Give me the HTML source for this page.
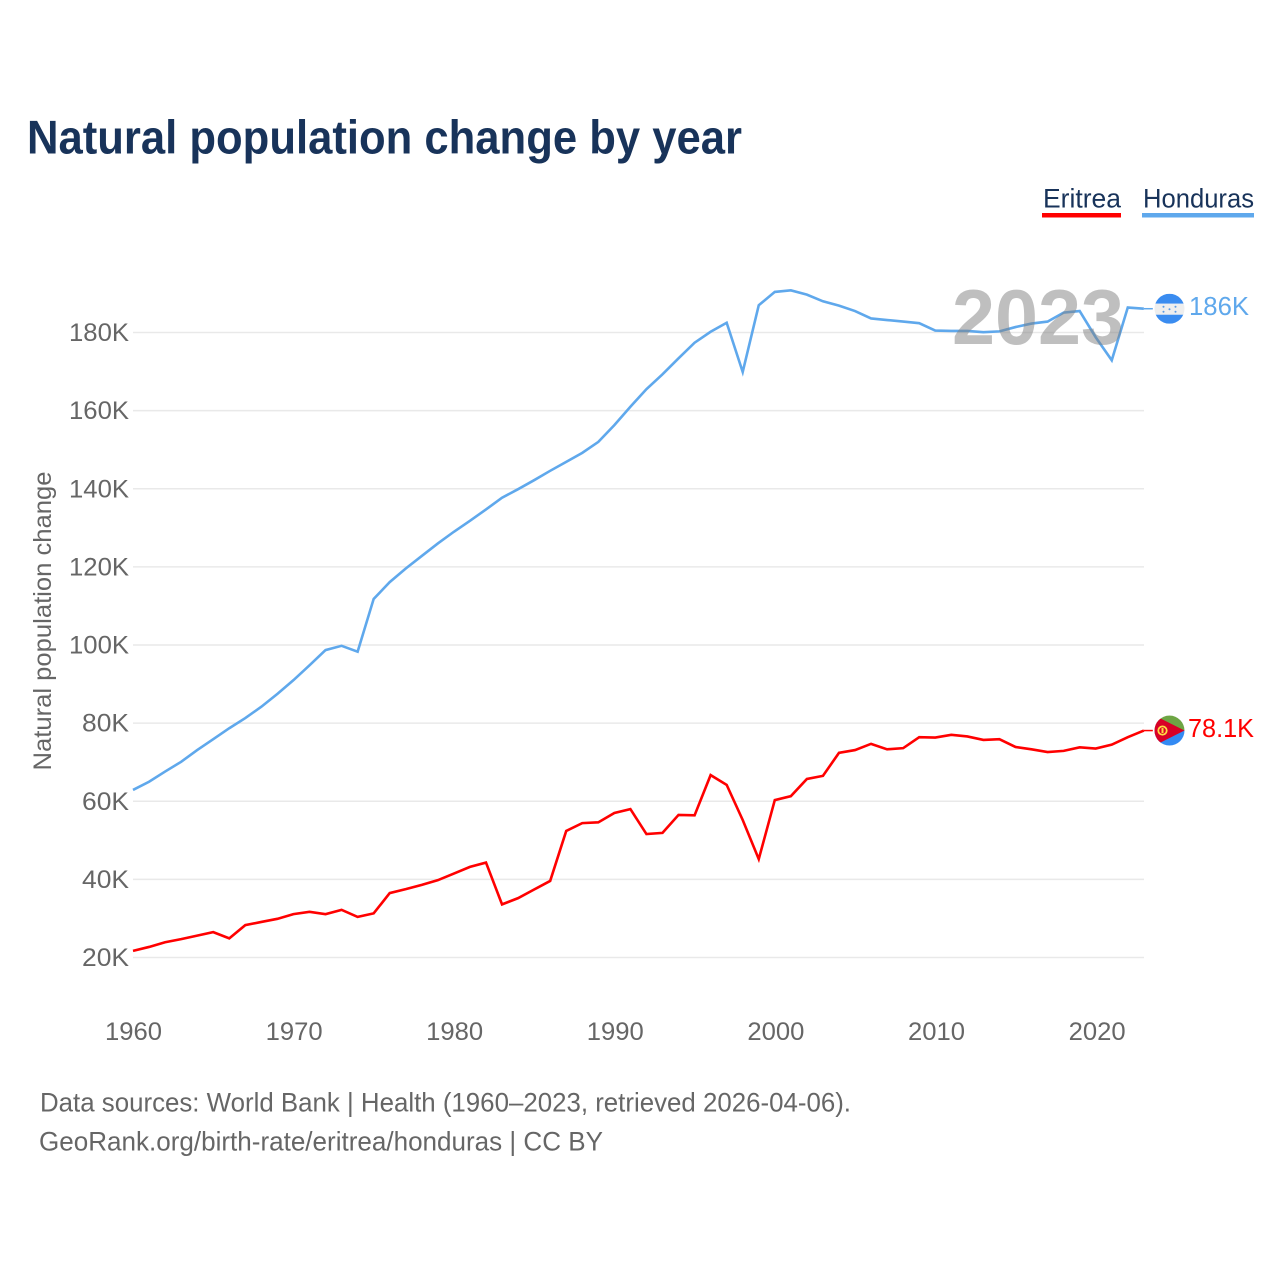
<!DOCTYPE html>
<html lang="en">
<head>
<meta charset="utf-8">
<title>Natural population change by year</title>
<style>
  html, body { margin: 0; padding: 0; background: #fff; }
  svg { display: block; font-family: "Liberation Sans", sans-serif; }
</style>
</head>
<body>
<svg id="chart" xmlns="http://www.w3.org/2000/svg" width="1280" height="1280" viewBox="0 0 1280 1280">
  <rect x="0" y="0" width="1280" height="1280" fill="#ffffff"/>
  <text x="27" y="153.5" font-size="47" font-weight="700" fill="#18335a" textLength="715" lengthAdjust="spacingAndGlyphs">Natural population change by year</text>

  <g>
    <g>
      <text x="1043" y="207.5" font-size="27" fill="#18335a" textLength="78" lengthAdjust="spacingAndGlyphs">Eritrea</text>
      <rect x="1042" y="213" width="79" height="4.5" fill="#ff0000"/>
    </g>
    <g>
      <text x="1143" y="207.5" font-size="27" fill="#18335a" textLength="111" lengthAdjust="spacingAndGlyphs">Honduras</text>
      <rect x="1142" y="213" width="112" height="4.5" fill="#5fa8ec"/>
    </g>
  </g>

  <g id="grid"></g>
  <g id="y-axis"></g>
  <g id="x-axis"></g>
  <text transform="translate(51 621) rotate(-90)" text-anchor="middle" font-size="25" fill="#666666" textLength="299" lengthAdjust="spacingAndGlyphs">Natural population change</text>

  <g id="series"></g>

  <text x="952" y="344" font-size="78" font-weight="700" fill="#808080" fill-opacity="0.5" textLength="172" lengthAdjust="spacingAndGlyphs">2023</text>

  <defs>
    <clipPath id="clip-hn"><circle cx="15" cy="15" r="15"/></clipPath>
    <clipPath id="clip-er"><circle cx="15" cy="15" r="15"/></clipPath>
  </defs>

  <g id="flag-honduras">
    <g clip-path="url(#clip-hn)">
      <rect x="0" y="0" width="30" height="10" fill="#3a8cf0"/>
      <rect x="0" y="10" width="30" height="11" fill="#eeeeee"/>
      <rect x="0" y="21" width="30" height="9" fill="#3a8cf0"/>
      <g fill="#5a9ae6">
        <circle cx="9" cy="13" r="1"/><circle cx="21" cy="13" r="1"/><circle cx="15" cy="15.5" r="1"/><circle cx="9" cy="18" r="1"/><circle cx="21" cy="18" r="1"/>
      </g>
    </g>
  </g>

  <g id="flag-eritrea">
    <g clip-path="url(#clip-er)">
      <rect x="0" y="0" width="30" height="15" fill="#6da544"/>
      <rect x="0" y="15" width="30" height="15" fill="#338af3"/>
      <polygon points="0,0 30,15 0,30" fill="#d80027"/>
      <circle cx="8" cy="15" r="4.2" fill="none" stroke="#ffda44" stroke-width="1.8"/>
      <rect x="7" y="12.5" width="2" height="5" fill="#ffda44"/>
    </g>
  </g>

  <text id="end-label-honduras" font-size="26" fill="#5fa8ec" textLength="60" lengthAdjust="spacingAndGlyphs"></text>
  <text id="end-label-eritrea" font-size="26" fill="#ff0000" textLength="66" lengthAdjust="spacingAndGlyphs"></text>

  <text x="40" y="1111.5" font-size="27" fill="#666666" textLength="811" lengthAdjust="spacingAndGlyphs">Data sources: World Bank | Health (1960–2023, retrieved 2026-04-06).</text>
  <text x="39" y="1150.5" font-size="27" fill="#666666" textLength="564" lengthAdjust="spacingAndGlyphs">GeoRank.org/birth-rate/eritrea/honduras | CC BY</text>
</svg>

<script>
const years = [1960,1961,1962,1963,1964,1965,1966,1967,1968,1969,1970,1971,1972,1973,1974,1975,1976,1977,1978,1979,1980,1981,1982,1983,1984,1985,1986,1987,1988,1989,1990,1991,1992,1993,1994,1995,1996,1997,1998,1999,2000,2001,2002,2003,2004,2005,2006,2007,2008,2009,2010,2011,2012,2013,2014,2015,2016,2017,2018,2019,2020,2021,2022,2023];
const honduras = [62.9,65,67.6,70.1,73.1,75.9,78.7,81.3,84.2,87.5,91,94.8,98.7,99.8,98.3,111.8,116.1,119.6,122.8,126,129,131.8,134.7,137.7,139.9,142.2,144.6,146.9,149.2,152,156.3,161,165.5,169.3,173.4,177.4,180.2,182.5,169.9,187,190.4,190.8,189.7,188,186.9,185.5,183.6,183.2,182.8,182.4,180.5,180.4,180.4,180.1,180.3,181.4,182.3,182.8,185.1,185.5,178.8,172.9,186.4,186.1];
const eritrea = [21.7,22.7,23.9,24.7,25.6,26.5,24.9,28.3,29.1,29.9,31.1,31.7,31.1,32.2,30.4,31.3,36.5,37.5,38.6,39.8,41.5,43.2,44.3,33.6,35.2,37.4,39.6,52.4,54.4,54.6,57,58,51.6,51.9,56.5,56.4,66.7,64.2,55.2,45.2,60.3,61.3,65.7,66.5,72.4,73.1,74.7,73.3,73.6,76.4,76.3,77,76.6,75.7,75.9,73.9,73.3,72.6,72.9,73.8,73.5,74.5,76.4,78.1];
const yTicks = [20,40,60,80,100,120,140,160,180];
const xTicks = [1960,1970,1980,1990,2000,2010,2020];

const NS = 'http://www.w3.org/2000/svg';
function xScale(year) { return 133 + (year - 1960) * 16.045; }
function yScale(value) { return 957.5 - (value - 20) * 3.906; }
function make(tag, attrs, parent) {
  const el = document.createElementNS(NS, tag);
  Object.keys(attrs).forEach(function (k) { el.setAttribute(k, attrs[k]); });
  parent.appendChild(el);
  return el;
}
function formatK(v) { return (v >= 100 ? Math.round(v) : v.toFixed(1)) + 'K'; }

const grid = document.getElementById('grid');
const yAxis = document.getElementById('y-axis');
const xAxis = document.getElementById('x-axis');
const series = document.getElementById('series');

yTicks.forEach(function (t) {
  const line = make('line', { x1: 133, x2: 1144, y1: yScale(t), y2: yScale(t), stroke: '#e9e9e9', 'stroke-width': 1.5 }, grid);
  
  
  const label = make('text', { x: 129, y: yScale(t) + 8.5, 'text-anchor': 'end', 'font-size': 25, fill: '#666666', textLength: t >= 100 ? 60 : 47, lengthAdjust: 'spacingAndGlyphs' }, yAxis);
  
  
  label.textContent = t + 'K';
});

xTicks.forEach(function (t) {
  const label = make('text', { x: 133.5 + (t - 1960) * 16.06, y: 1040, 'text-anchor': 'middle', 'font-size': 25, fill: '#666666', textLength: 57, lengthAdjust: 'spacingAndGlyphs' }, xAxis);
  
  
  label.textContent = t;
});

function drawSeries(values, color, name) {
  const pts = values.map(function (v, i) { return xScale(years[i]).toFixed(2) + ',' + yScale(v).toFixed(2); }).join(' ');
  const line = make('polyline', { points: pts, fill: 'none', stroke: color, 'stroke-width': 2.6, 'stroke-linejoin': 'miter' }, series);
  
  
  const lastV = values[values.length - 1];
  const lastX = xScale(years[years.length - 1]);
  const conn = make('line', { x1: lastX, x2: lastX + 9, y1: yScale(lastV), y2: yScale(lastV), stroke: color, 'stroke-width': 1.5 }, series);
  
  
}
drawSeries(eritrea, '#ff0000', 'eritrea');
drawSeries(honduras, '#5fa8ec', 'honduras');

function placeEnd(values, flagId, labelId, flagX, labelX) {
  const v = values[values.length - 1];
  const y = yScale(v);
  document.getElementById(flagId).setAttribute('transform', 'translate(' + flagX + ' ' + (y - 15) + ')');
  const label = document.getElementById(labelId);
  label.setAttribute('x', labelX);
  label.setAttribute('y', y + 6.5);
  label.textContent = formatK(v);
}
placeEnd(honduras, 'flag-honduras', 'end-label-honduras', 1154.5, 1189);
placeEnd(eritrea, 'flag-eritrea', 'end-label-eritrea', 1154.5, 1188);
</script>
</body>
</html>
